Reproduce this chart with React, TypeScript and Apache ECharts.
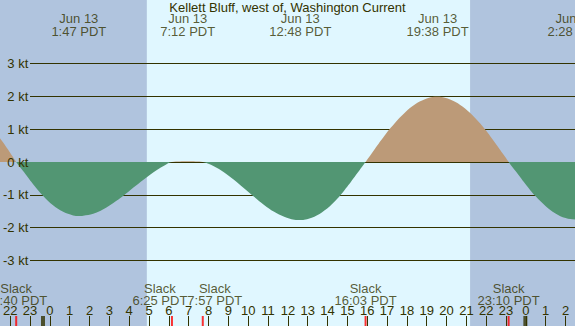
import React, { useEffect, useRef } from "react";
import * as echarts from "echarts";

// ---- data ----
const title = "Kellett Bluff, west of, Washington Current";
// current samples: hours from midnight Jun 13 (PDT), knots
const sampleHours = [
  -2.5, -2.0, -1.5, -1.333, -1.0, -0.5, 0, 0.5, 1.0, 1.5, 1.783, 2.0, 2.5, 3.0, 3.5, 4.0, 4.5, 5.0, 5.5, 6.0,
  6.417, 6.8, 7.2, 7.6, 7.95, 8.5, 9.0, 9.5, 10.0, 10.5, 11.0, 11.5, 12.0, 12.5, 12.8, 13.0, 13.5, 14.0, 14.5,
  15.0, 15.5, 16.0, 16.05, 16.5, 17.0, 17.5, 18.0, 18.5, 19.0, 19.5, 19.633, 20.0, 20.5, 21.0, 21.5, 22.0, 22.5,
  23.0, 23.167, 23.5, 24.0, 24.5, 25.0, 25.5, 26.0, 26.467, 27.0,
];
const currentKt = [
  1.02, 0.61, 0.16, 0, -0.27, -0.67, -1.03, -1.32, -1.52, -1.63, -1.65, -1.64, -1.58, -1.44, -1.25, -1.03, -0.78, -0.54, -0.31, -0.12,
  0, 0.015, 0.02, 0.015, 0, -0.13, -0.31, -0.54, -0.8, -1.06, -1.31, -1.52, -1.67, -1.76, -1.77, -1.76, -1.67, -1.48, -1.21,
  -0.86, -0.46, -0.04, 0, 0.39, 0.81, 1.18, 1.5, 1.75, 1.91, 1.99, 1.99, 1.96, 1.84, 1.63, 1.34, 0.99, 0.58,
  0.15, 0, -0.27, -0.67, -1.04, -1.34, -1.57, -1.71, -1.75, -1.72,
];
// max flood / ebb events (minutes from midnight Jun 13)
const peakMinutes = [107, 432, 768, 1178, 1588];
const peakDates = ["Jun 13", "Jun 13", "Jun 13", "Jun 13", "Jun 14"];
// slack events (minutes from midnight Jun 13)
const slackMinutes = [-80, 385, 477, 963, 1390];
// sunrise / sunset (minutes)
const sunriseMinutes = 310;
const sunsetMinutes = 1275;
// hour ticks
const firstHourTick = -2;
const lastHourTick = 26;
const midnightHours = [0, 24];
const ktMin = -3;
const ktMax = 3;

const X_MIN = -2.139;
const X_MAX = 26.47;
const Y_MIN = -5.0;
const Y_MAX = 4.939;
const W = 575;
const H = 326;

const TEXT = "#333300";
const DAY = "#e0f7ff";
const NIGHT = "#b0c4de";
const FLOOD = "#bc9a78";
const EBB = "#529673";
const FONT = "'Liberation Sans', Arial, sans-serif";
const FONT_SIZE = 13;

function hm(min: number) {
  const m = ((min % 1440) + 1440) % 1440;
  return Math.floor(m / 60) + ":" + String(m % 60).padStart(2, "0");
}
const px = (h: number) => ((h - X_MIN) / (X_MAX - X_MIN)) * W;

function textWidth(s: string) {
  const ctx = document.createElement("canvas").getContext("2d");
  if (!ctx) return s.length * 7;
  ctx.font = `${FONT_SIZE}px ${FONT}`;
  return ctx.measureText(s).width;
}

// push apart slack labels that would overlap
function slackShifts() {
  const shifts = slackMinutes.map(() => 0);
  for (let i = 0; i + 1 < slackMinutes.length; i++) {
    const a = px(slackMinutes[i] / 60);
    const b = px(slackMinutes[i + 1] / 60);
    const need =
      (textWidth(hm(slackMinutes[i]) + " PDT") + textWidth(hm(slackMinutes[i + 1]) + " PDT")) / 2;
    const d = b - a;
    if (d < need) {
      shifts[i] -= (need - d) / 2;
      shifts[i + 1] += (need - d) / 2;
    }
  }
  return shifts;
}

export default function App() {
  const ref = useRef<HTMLDivElement>(null);
  useEffect(() => {
    const chart = echarts.init(ref.current!, null, { renderer: "svg" });
    const shifts = slackShifts();
    const ktLabelAxis = {
      type: "value",
      min: ktMin,
      max: ktMax,
      interval: 1,
      axisLine: { show: false },
      axisTick: { show: false },
    };
    chart.setOption({
      animation: false,
      backgroundColor: DAY,
      textStyle: { fontFamily: FONT },
      title: {
        text: title,
        left: "center",
        top: -1,
        padding: [2, 0, 0, 0],
        textStyle: { fontSize: FONT_SIZE, fontWeight: "normal", color: TEXT, fontFamily: FONT },
      },
      grid: [
        { left: 0, right: 0, top: 0, bottom: 0 },
        { left: 30, right: 0, top: 63.6, height: 196.8 },
        { left: px(firstHourTick), right: W - px(lastHourTick), top: 0, bottom: 0 },
        { left: 30, right: 0, top: 63.6, height: 196.8 },
      ],
      visualMap: {
        type: "piecewise",
        show: false,
        seriesIndex: 0,
        dimension: 1,
        pieces: [
          { gt: 0, lte: 10, color: FLOOD },
          { gt: -10, lte: 0, color: EBB },
        ],
      },
      xAxis: [
        { type: "value", gridIndex: 0, min: X_MIN, max: X_MAX, show: false },
        { type: "value", gridIndex: 1, min: 0, max: 1, show: false },
        {
          type: "value",
          gridIndex: 2,
          min: firstHourTick,
          max: lastHourTick,
          interval: 1,
          position: "bottom",
          z: 5,
          splitLine: { show: false },
          axisLine: { show: false },
          axisTick: { show: true, inside: true, length: 10, lineStyle: { color: TEXT, width: 1 } },
          axisLabel: {
            inside: true,
            margin: 9,
            color: TEXT,
            fontSize: FONT_SIZE,
            fontFamily: FONT,
            showMinLabel: true,
            showMaxLabel: true,
            formatter: (v: number) => String(((Math.round(v) % 24) + 24) % 24),
          },
        },
        { type: "value", gridIndex: 3, min: 0, max: 1, show: false },
      ],
      yAxis: [
        { type: "value", gridIndex: 0, min: Y_MIN, max: Y_MAX, show: false },
        {
          ...ktLabelAxis,
          gridIndex: 1,
          z: 2,
          splitLine: { show: true, lineStyle: { color: TEXT, width: 1 } },
          axisLabel: { show: false },
        },
        { type: "value", gridIndex: 2, min: 0, max: 1, show: false },
        {
          ...ktLabelAxis,
          gridIndex: 3,
          z: 6,
          splitLine: { show: false },
          axisLabel: { margin: 2, color: TEXT, fontSize: FONT_SIZE, fontFamily: FONT, formatter: "{value} kt" },
        },
      ],
      series: [
        {
          type: "line",
          xAxisIndex: 0,
          yAxisIndex: 0,
          z: 3,
          smooth: 0.4,
          symbol: "none",
          silent: true,
          lineStyle: { width: 0, opacity: 0 },
          areaStyle: { opacity: 1 },
          data: sampleHours.map((h, i) => [h, currentKt[i]]),
          markArea: {
            silent: true,
            z: 1,
            itemStyle: { color: NIGHT, opacity: 1 },
            data: [
              [{ xAxis: X_MIN }, { xAxis: sunriseMinutes / 60 }],
              [{ xAxis: sunsetMinutes / 60 }, { xAxis: X_MAX }],
            ],
          },
        },
        {
          type: "scatter",
          xAxisIndex: 0,
          yAxisIndex: 0,
          z: 6,
          silent: true,
          symbol: "rect",
          symbolSize: [4, 10],
          symbolOffset: [0, -5],
          itemStyle: { color: TEXT },
          data: midnightHours.map((h) => [h, Y_MIN]),
        },
        {
          type: "scatter",
          xAxisIndex: 0,
          yAxisIndex: 0,
          z: 6,
          silent: true,
          symbol: "rect",
          symbolSize: [2, 10],
          symbolOffset: [0, -5],
          itemStyle: { color: "#ff0000" },
          label: {
            show: true,
            position: "top",
            distance: 10,
            color: TEXT,
            fontSize: FONT_SIZE,
            lineHeight: 12,
            fontFamily: FONT,
            formatter: (p: any) => "Slack\n" + hm(slackMinutes[p.dataIndex]) + " PDT",
          },
          labelLayout: (p: any) => ({ dx: shifts[p.dataIndex] || 0, hideOverlap: false }),
          data: slackMinutes.map((m) => [m / 60, Y_MIN]),
        },
        {
          type: "scatter",
          xAxisIndex: 0,
          yAxisIndex: 0,
          z: 6,
          silent: true,
          symbol: "rect",
          symbolSize: 1,
          itemStyle: { color: "rgba(0,0,0,0)" },
          label: {
            show: true,
            position: "bottom",
            distance: 12,
            color: TEXT,
            fontSize: FONT_SIZE,
            lineHeight: 12.5,
            fontFamily: FONT,
            formatter: (p: any) => peakDates[p.dataIndex] + "\n" + hm(peakMinutes[p.dataIndex]) + " PDT",
          },
          data: peakMinutes.map((m) => [m / 60, Y_MAX]),
        },
      ],
    });
    return () => chart.dispose();
  }, []);
  return <div ref={ref} style={{ position: "fixed", left: 0, top: 0, width: W, height: H }} />;
}
